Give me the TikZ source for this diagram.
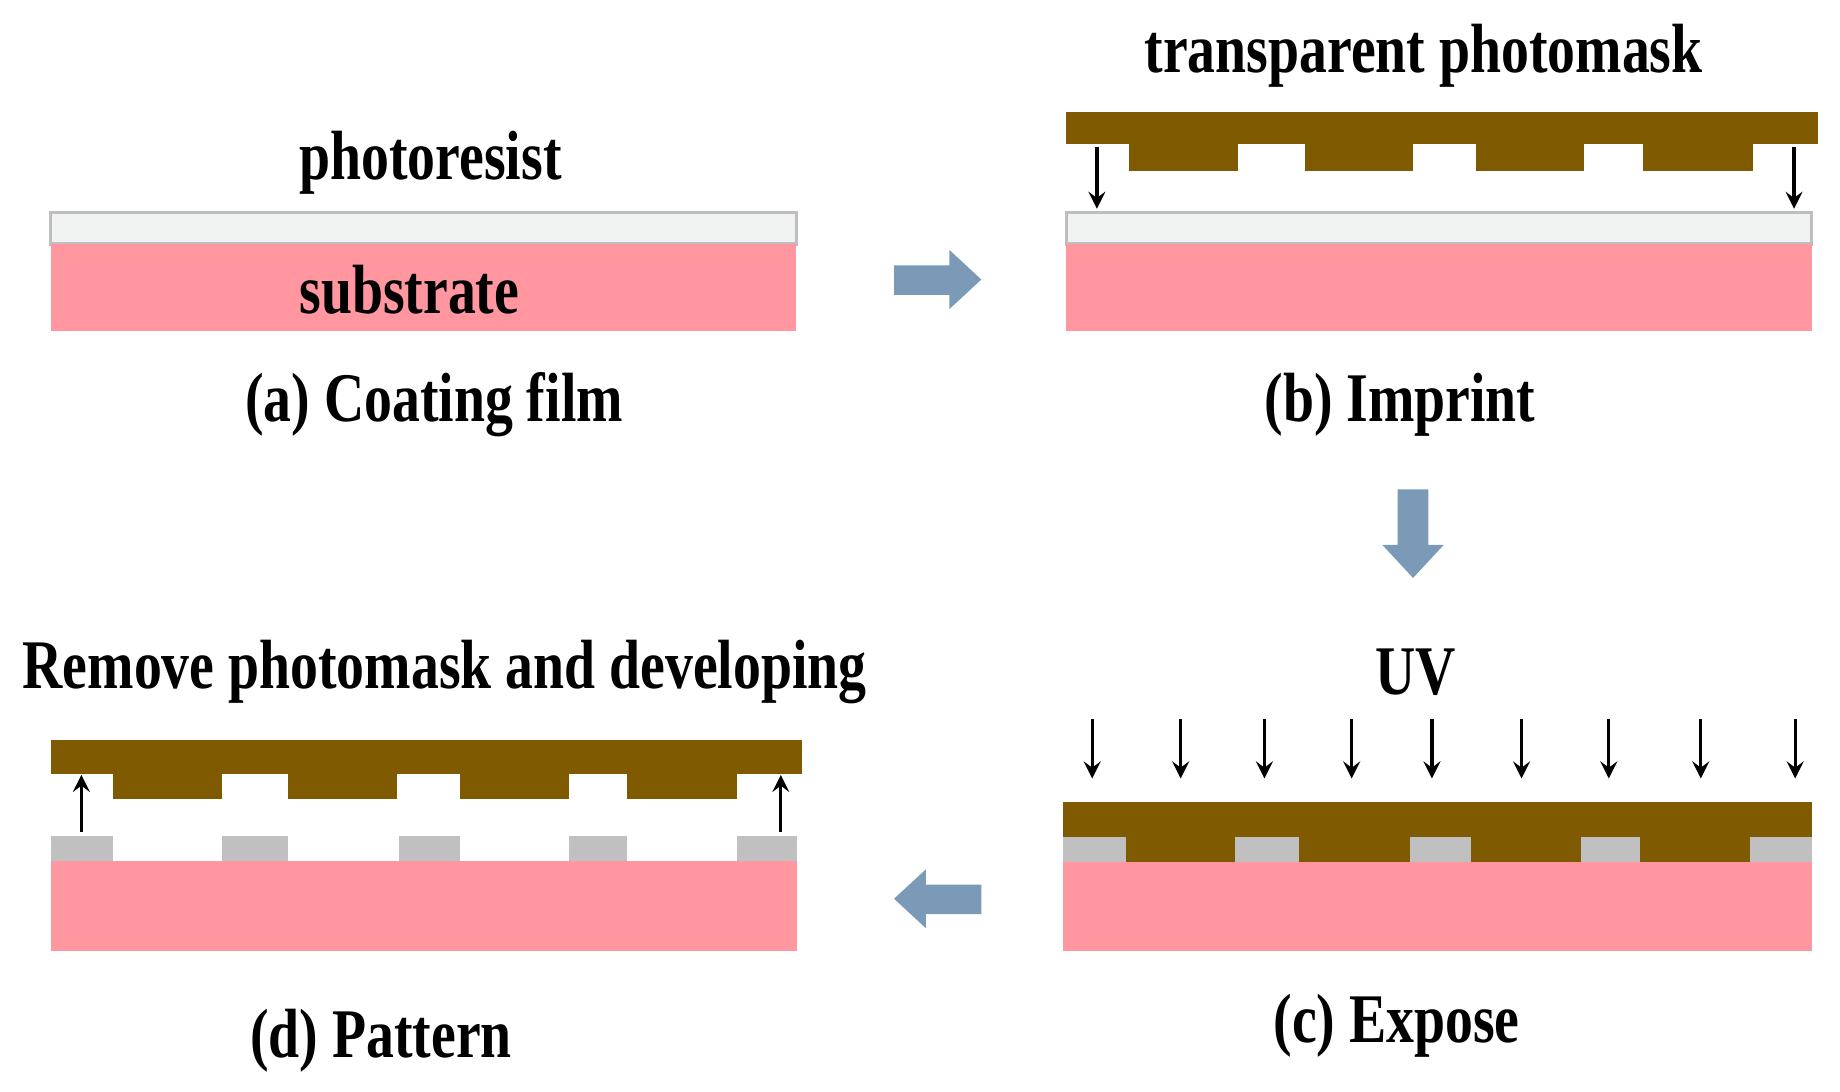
\documentclass[tikz,border=0pt]{standalone}
\usepackage{fontspec}
\setmainfont{Liberation Serif}
\begin{document}
\begin{tikzpicture}[x=0.01cm,y=-0.01cm,
  lbl/.style={font=\bfseries\fontsize{16.8}{20}\selectfont, inner sep=0, xscale=0.8},
  sub/.style={fill={rgb,255:red,255;green,150;blue,160}, draw=none},
  res/.style={fill={rgb,255:red,241;green,243;blue,242}, draw={rgb,255:red,190;green,190;blue,190}, line width=0.8pt},
  mask/.style={fill={rgb,255:red,127;green,90;blue,0}, draw=none},
  gry/.style={fill={rgb,255:red,192;green,192;blue,192}, draw=none},
  big/.style={fill={rgb,255:red,122;green,154;blue,184}, draw=none},
  thin/.style={->, >=stealth, line width=0.8pt}]
\useasboundingbox (0,0) rectangle (1560,925);
% (a)
\fill[res] (43,180) rectangle (675,207);
\fill[sub] (43,207) rectangle (675,281);
\node[lbl] (pr) at (365,138) {photoresist};
\node[lbl] (su) at (347,246) {substrate};
\node[lbl] (la) at (368,343) {(a) Coating film};
% arrow right
\fill[big] (758,225) -- (805,225) -- (805,212) -- (832,237) -- (805,262) -- (805,250) -- (758,250) -- cycle;
% (b)
\node[lbl] (tp) at (1207,47) {transparent photomask};
\fill[mask] (904,95) rectangle (1541,122);
\foreach \a/\b in {957/1050,1106/1198,1251/1343,1393/1486}
  \fill[mask] (\a,121) rectangle (\b,145);
\fill[res] (904,180) rectangle (1536,207);
\fill[sub] (904,207) rectangle (1536,281);
\coordinate (b1s) at (930,125); \coordinate (b1e) at (930,177);
\coordinate (b2s) at (1521,125); \coordinate (b2e) at (1521,177);
\draw[thin] (b1s) -- (b1e);
\draw[thin] (b2s) -- (b2e);
\node[lbl] (lb) at (1187,343) {(b) Imprint};
% arrow down
\fill[big] (1185,415) -- (1211,415) -- (1211,462) -- (1224,462) -- (1198,490) -- (1172,462) -- (1185,462) -- cycle;
% (c)
\node[lbl] (uv) at (1200,570) {UV};
\foreach \x in {926,1001,1072,1146,1214,1290,1364,1442,1522}
  \draw[thin] (\x,610) -- (\x,660);
\fill[mask] (901,680) rectangle (1536,731);
\foreach \a/\b in {901/955,1047/1101,1195/1247,1340/1390,1484/1536}
  \fill[gry] (\a,710) rectangle (\b,731);
\fill[sub] (901,731) rectangle (1536,806);
\node[lbl] (lc) at (1184,870) {(c) Expose};
% arrow left
\fill[big] (832,750) -- (785,750) -- (785,737) -- (758,762) -- (785,787) -- (785,775) -- (832,775) -- cycle;
% (d)
\node[lbl] (rm) at (377,570) {Remove photomask and developing};
\fill[mask] (43,627) rectangle (680,656);
\foreach \a/\b in {96/188,244/337,390/482,532/625}
  \fill[mask] (\a,655) rectangle (\b,677);
\foreach \a/\b in {43/96,188/244,338/390,482/532,625/676}
  \fill[gry] (\a,709) rectangle (\b,730);
\fill[sub] (43,730) rectangle (676,806);
\coordinate (d1s) at (69,705); \coordinate (d1e) at (69,657);
\coordinate (d2s) at (662,705); \coordinate (d2e) at (662,657);
\draw[thin] (d1s) -- (d1e);
\draw[thin] (d2s) -- (d2e);
\node[lbl] (ld) at (323,882) {(d) Pattern};
\end{tikzpicture}
\end{document}
